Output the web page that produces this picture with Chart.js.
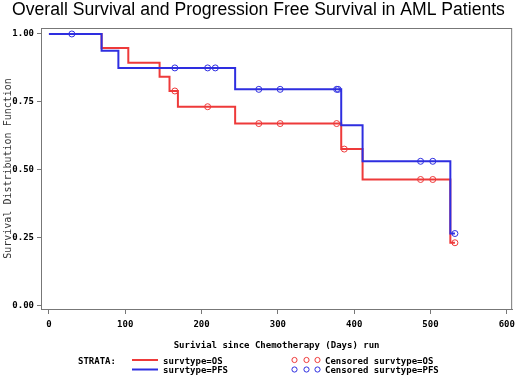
<!DOCTYPE html>
<html>
<head>
<meta charset="utf-8">
<script src="https://cdn.jsdelivr.net/npm/chart.js@4"></script>
<style>
  body { margin: 0; background: #fff; }
  canvas { display: block; }
</style>
</head>
<body>
<canvas id="km" width="520" height="375"></canvas>
<script>
// Kaplan-Meier steps (days, survival after the step)
const osDays = [0, 69, 104, 145, 158, 169, 244, 383, 411, 526, 532];
const osSurv = [1.0, 0.948, 0.894, 0.842, 0.790, 0.732, 0.670, 0.576, 0.464, 0.231, 0.231];
const pfsDays = [0, 69, 91, 244, 383, 411, 526, 532];
const pfsSurv = [1.0, 0.938, 0.875, 0.796, 0.664, 0.531, 0.265, 0.265];

// Censored observations (days)
const osCensDays = [165, 208, 275, 303, 377, 387, 487, 503, 532];
const pfsCensDays = [30, 165, 208, 218, 275, 303, 377, 379, 487, 503, 532];

// Axis ticks
const xTicks = [0, 100, 200, 300, 400, 500, 600];
const yTicks = [0, 0.25, 0.5, 0.75, 1.0];

const RED = '#ee3a3a';
const BLUE = '#2e2ee0';
const FRAME = '#777777';
const monoBold = { family: '"DejaVu Sans Mono", monospace', size: 9, weight: 'bold' };

// survival value in effect at time t (for placing censor marks on the curve)
function survAt(days, surv, t) {
  let s = surv[0];
  for (let i = 0; i < days.length; i++) {
    if (days[i] <= t) s = surv[i];
  }
  return s;
}

const toPoints = (xs, ys) => xs.map((x, i) => ({ x: x, y: ys[i] }));
const censPoints = (cens, days, surv) => cens.map(t => ({ x: t, y: survAt(days, surv, t) }));

// frame, title and the SAS-style legend underneath
const decorations = {
  id: 'decorations',
  afterDraw(chart) {
    const { ctx, chartArea: a } = chart;
    ctx.save();
    ctx.strokeStyle = FRAME;
    ctx.lineWidth = 1;
    ctx.strokeRect(a.left + 0.5, a.top + 0.5, a.right - a.left - 1, a.bottom - a.top);

    ctx.fillStyle = '#000';
    ctx.font = '17.6px "Liberation Sans", Arial, sans-serif';
    ctx.textAlign = 'center';
    ctx.textBaseline = 'middle';
    ctx.fillText('Overall Survival and Progression Free Survival in AML Patients', 258.5, 10);

    ctx.font = 'bold 9px "DejaVu Sans Mono", monospace';
    ctx.textAlign = 'left';
    ctx.fillText('STRATA:', 78, 362);

    const rows = [
      { color: RED, y: 360, label: 'survtype=OS', cens: 'Censored survtype=OS' },
      { color: BLUE, y: 369.5, label: 'survtype=PFS', cens: 'Censored survtype=PFS' }
    ];
    rows.forEach(r => {
      ctx.strokeStyle = r.color;
      ctx.lineWidth = 2;
      ctx.beginPath();
      ctx.moveTo(132, r.y);
      ctx.lineTo(158, r.y);
      ctx.stroke();
      ctx.fillStyle = '#000';
      ctx.fillText(r.label, 163, r.y + 1.5);

      ctx.lineWidth = 1;
      [294.5, 306.5, 317.5].forEach(cx => {
        ctx.beginPath();
        ctx.arc(cx, r.y, 2.6, 0, Math.PI * 2);
        ctx.stroke();
      });
      ctx.fillText(r.cens, 325, r.y + 1.5);
    });
    ctx.restore();
  }
};

new Chart(document.getElementById('km'), {
  type: 'scatter',
  data: {
    datasets: [
      {
        label: 'survtype=PFS',
        data: toPoints(pfsDays, pfsSurv),
        showLine: true,
        stepped: true,
        borderColor: BLUE,
        borderWidth: 2,
        pointRadius: 0,
        order: 1
      },
      {
        label: 'Censored survtype=PFS',
        data: censPoints(pfsCensDays, pfsDays, pfsSurv),
        showLine: false,
        pointStyle: 'circle',
        pointRadius: 3,
        borderWidth: 1,
        borderColor: BLUE,
        backgroundColor: 'transparent',
        order: 0
      },
      {
        label: 'survtype=OS',
        data: toPoints(osDays, osSurv),
        showLine: true,
        stepped: true,
        borderColor: RED,
        borderWidth: 2,
        pointRadius: 0,
        order: 3
      },
      {
        label: 'Censored survtype=OS',
        data: censPoints(osCensDays, osDays, osSurv),
        showLine: false,
        pointStyle: 'circle',
        pointRadius: 3,
        borderWidth: 1,
        borderColor: RED,
        backgroundColor: 'transparent',
        order: 2
      }
    ]
  },
  options: {
    responsive: false,
    animation: false,
    layout: { padding: { top: 28, right: 3, left: 0, bottom: 0 } },
    plugins: {
      legend: { display: false },
      tooltip: { enabled: false }
    },
    scales: {
      x: {
        type: 'linear',
        min: -10.4,
        max: 607,
        afterBuildTicks: s => { s.ticks = xTicks.map(v => ({ value: v })); },
        afterFit: s => { s.height = 66; },
        grid: { drawOnChartArea: false, tickLength: 5, color: FRAME },
        border: { color: FRAME, width: 1 },
        ticks: { padding: 5, autoSkip: false, maxRotation: 0, color: '#000', font: monoBold },
        title: {
          display: true,
          text: 'Surivial since Chemotherapy (Days) run',
          color: '#000',
          font: monoBold,
          padding: { top: 0, bottom: 24 }
        }
      },
      y: {
        min: -0.013,
        max: 1.022,
        afterBuildTicks: s => { s.ticks = yTicks.map(v => ({ value: v })); },
        afterFit: s => { s.width = 41; },
        grid: { drawOnChartArea: false, tickLength: 4, color: FRAME },
        border: { color: FRAME, width: 1 },
        ticks: {
          padding: 3,
          color: '#000',
          font: monoBold,
          callback: v => v.toFixed(2)
        },
        title: {
          display: true,
          text: 'Survival Distribution Function',
          color: '#333',
          font: { family: '"DejaVu Sans Mono", monospace', size: 10 },
          padding: { top: 2, bottom: 0 }
        }
      }
    }
  },
  plugins: [decorations]
});
</script>
</body>
</html>
